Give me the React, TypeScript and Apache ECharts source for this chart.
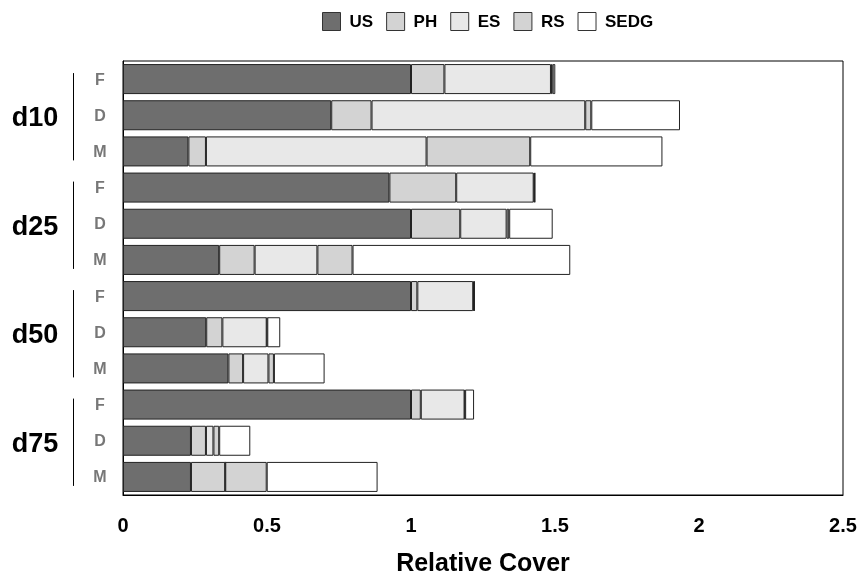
import React, { useEffect, useRef } from "react";
import * as echarts from "echarts";

const groups = ["d10", "d25", "d50", "d75"];
const rowTypes = ["F", "D", "M"];
const seriesNames = ["US", "PH", "ES", "RS", "SEDG"];
const seriesColors = ["#6e6e6e", "#d3d3d3", "#e8e8e8", "#d3d3d3", "#ffffff"];
const xTicks = [0, 0.5, 1, 1.5, 2, 2.5];

// rows in order: d10 F, D, M, d25 F, D, M, d50 F, D, M, d75 F, D, M
const US = [1.0, 0.723, 0.227, 0.925, 1.0, 0.334, 1.0, 0.289, 0.366, 1.0, 0.236, 0.236];
const PH = [0.116, 0.14, 0.061, 0.232, 0.171, 0.123, 0.022, 0.056, 0.051, 0.034, 0.052, 0.119];
const ES = [0.37, 0.742, 0.766, 0.269, 0.161, 0.218, 0.194, 0.154, 0.088, 0.152, 0.026, 0];
const RS = [0.006, 0.021, 0.36, 0.003, 0.009, 0.122, 0.003, 0.002, 0.019, 0.002, 0.02, 0.144];
const SEDG = [0.009, 0.308, 0.459, 0.002, 0.151, 0.756, 0.002, 0.045, 0.176, 0.031, 0.108, 0.385];

const seriesValues = [US, PH, ES, RS, SEDG];
const FONT = '"Liberation Sans", Arial, Helvetica, sans-serif';

export default function App() {
  const ref = useRef<HTMLDivElement>(null);
  useEffect(() => {
    if (!ref.current) return;
    const chart = echarts.init(ref.current, null, { renderer: "svg" });
    const categories: string[] = [];
    groups.forEach((g) => rowTypes.forEach((t) => categories.push(`${g}-${t}`)));

    const option: any = {
      animation: false,
      textStyle: { fontFamily: FONT },
      legend: {
        data: seriesNames,
        left: 322,
        top: 12,
        padding: 0,
        itemWidth: 18,
        itemHeight: 18,
        itemGap: 13,
        icon: "rect",
        itemStyle: { borderColor: "#333", borderWidth: 1 },
        textStyle: {
          fontFamily: FONT,
          fontSize: 17,
          fontWeight: "bold",
          color: "#000",
          padding: [0, 0, 0, 4],
        },
      },
      grid: {
        left: 123,
        right: 18,
        top: 61,
        bottom: 84,
        containLabel: false,
        outerBoundsMode: "none",
        show: true,
        borderColor: "#000",
        borderWidth: 1,
        backgroundColor: "transparent",
      },
      xAxis: {
        type: "value",
        min: 0,
        max: 2.5,
        interval: 0.5,
        splitLine: { show: false },
        axisLine: { show: true, lineStyle: { color: "#000" } },
        axisTick: { show: false },
        axisLabel: {
          margin: 20,
          fontSize: 20,
          fontWeight: "bold",
          color: "#000",
          fontFamily: FONT,
          formatter: (v: number) => (xTicks.includes(v) ? String(v) : ""),
        },
        name: "Relative Cover",
        nameLocation: "middle",
        nameGap: 54,
        nameTextStyle: { fontSize: 25, fontWeight: "bold", color: "#000", fontFamily: FONT },
      },
      yAxis: {
        type: "category",
        inverse: true,
        data: categories,
        axisLine: { show: true, lineStyle: { color: "#000" } },
        axisTick: { show: false },
        axisLabel: {
          margin: 23,
          align: "center",
          fontSize: 16,
          fontWeight: "bold",
          color: "#777",
          fontFamily: FONT,
          formatter: (v: string) => v.split("-")[1],
        },
      },
      series: seriesNames.map((name, i) => ({
        name,
        type: "bar",
        stack: "total",
        barCategoryGap: "17%",
        data: seriesValues[i],
        itemStyle: { color: seriesColors[i], borderColor: "#222", borderWidth: 1 },
        emphasis: { disabled: true },
      })),
    };
    chart.setOption(option);

    const graphics: any[] = [];
    groups.forEach((g, gi) => {
      const yF = chart.convertToPixel({ yAxisIndex: 0 }, gi * 3) as number;
      const yD = chart.convertToPixel({ yAxisIndex: 0 }, gi * 3 + 1) as number;
      const yM = chart.convertToPixel({ yAxisIndex: 0 }, gi * 3 + 2) as number;
      graphics.push({
        type: "line",
        shape: { x1: 73.5, y1: yF - 6, x2: 73.5, y2: yM + 9 },
        style: { stroke: "#000", lineWidth: 1 },
      });
      graphics.push({
        type: "text",
        x: 35,
        y: yD + 2,
        style: {
          text: g,
          fontSize: 27,
          fontWeight: "bold",
          fontFamily: FONT,
          fill: "#000",
          align: "center",
          verticalAlign: "middle",
        },
      });
    });
    chart.setOption({ graphic: graphics });

    return () => chart.dispose();
  }, []);
  return (
    <div
      ref={ref}
      style={{ position: "fixed", left: 0, top: 0, width: 861, height: 579 }}
    />
  );
}
